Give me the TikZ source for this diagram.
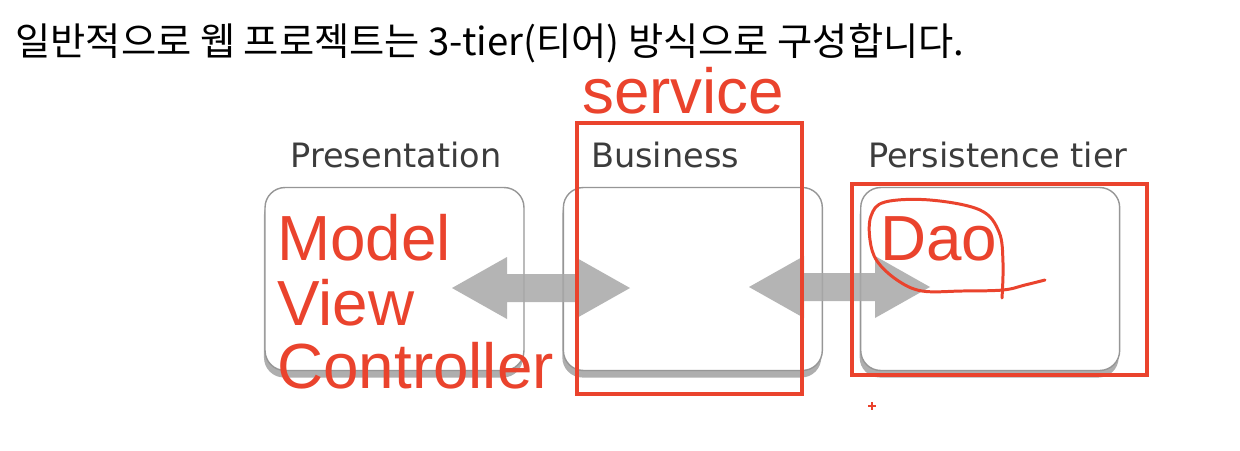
\documentclass[tikz,border=0pt]{standalone}
\usepackage{fontspec}
\setmainfont{Liberation Sans}
\newfontfamily\krfont{Noto Sans CJK KR}
\newfontfamily\labelfont{DejaVu Sans}
\newfontfamily\notefont{Liberation Sans}
\usetikzlibrary{calc,positioning,shadows}

% fat double-headed arrow between two named coordinates
\newcommand{\tierarrow}[2]{%
  \fill[arrowgray, opacity=0.85] (#1) -- ($(#1)+(55,-31)$) -- ($(#1)+(55,-14)$)
    -- ($(#2)+(-55,-14)$) -- ($(#2)+(-55,-31)$) -- (#2)
    -- ($(#2)+(-55,31)$) -- ($(#2)+(-55,14)$)
    -- ($(#1)+(55,14)$) -- ($(#1)+(55,31)$) -- cycle;}

\begin{document}
\begin{tikzpicture}[x=0.02cm, y=-0.02cm,
    tierbox/.style={draw=boxgray, line width=0.8pt, fill=white, rounded corners=0.4cm,
        minimum width=5.18cm, minimum height=3.66cm, inner sep=0pt,
        drop shadow={shadow xshift=-0.6pt, shadow yshift=-4pt, fill=shadowgray, opacity=0.9}},
    tierlabel/.style={text=labelgray, font=\labelfont\fontsize{19.1}{23}\selectfont,
        inner sep=0pt, anchor=base},
    note/.style={text=notered, font=\notefont\fontsize{36.3}{40}\selectfont,
        inner sep=0pt, anchor=base west},
    redline/.style={draw=notered, line width=2pt}]
    % Define colors
    \definecolor{boxgray}{RGB}{150,150,150}
    \definecolor{shadowgray}{RGB}{165,165,165}
    \definecolor{labelgray}{RGB}{60,60,60}
    \definecolor{arrowgray}{RGB}{168,168,168}
    \definecolor{notered}{RGB}{234,67,45}

    \useasboundingbox (0,0) rectangle (1240,450);

    % Title
    \node[anchor=base west, inner sep=0pt, font=\krfont\fontsize{21.8}{26}\selectfont] (title) at (15,55)
        {일반적으로 웹 프로젝트는 3-tier(티어) 방식으로 구성합니다.};

    % Tier boxes
    \node[tierbox] (pres) at (394.5,279) {};
    \node[tierbox, right=0.76cm of pres] (busi) {};
    \node[tierbox, right=0.74cm of busi] (pers) {};

    % Tier labels
    \node[tierlabel] (presl) at (396,167) {Presentation};
    \node[tierlabel] (busil) at (665,167) {Business};
    \node[tierlabel] (persl) at (998,167) {Persistence tier};

    % Arrows between tiers
    \coordinate (a1l) at (452,288);
    \coordinate (a1r) at (630,288);
    \coordinate (a2l) at (749,287);
    \coordinate (a2r) at (930,287);
    \tierarrow{a1l}{a1r}
    \tierarrow{a2l}{a2r}

    % Red notes
    \draw[redline] (577,123) rectangle (802,394);
    \draw[redline] (852,184) rectangle (1147,375);
    \node[note] (service) at (582,113) {service};
    \node[note] (model) at (277,260) {Model};
    \node[note] (view) at (277,325) {View};
    \node[note] (ctrl) at (277,388) {Controller};
    \node[note] (dao) at (880,260) {Dao};

    % loop round Dao
    \draw[notered, line width=1.7pt, line cap=round] plot[smooth, tension=0.6] coordinates {
        (1002,298) (1003,263) (999,232) (980,210) (930,200) (885,202) (871,216)
        (870,240) (877,261) (897,280) (922,291) (962,291) (1003,290) (1025,285) (1045,280)};
    \draw[notered, line width=0.8pt] (868,406) -- (876,406) (872,402) -- (872,410);
\end{tikzpicture}
\end{document}
